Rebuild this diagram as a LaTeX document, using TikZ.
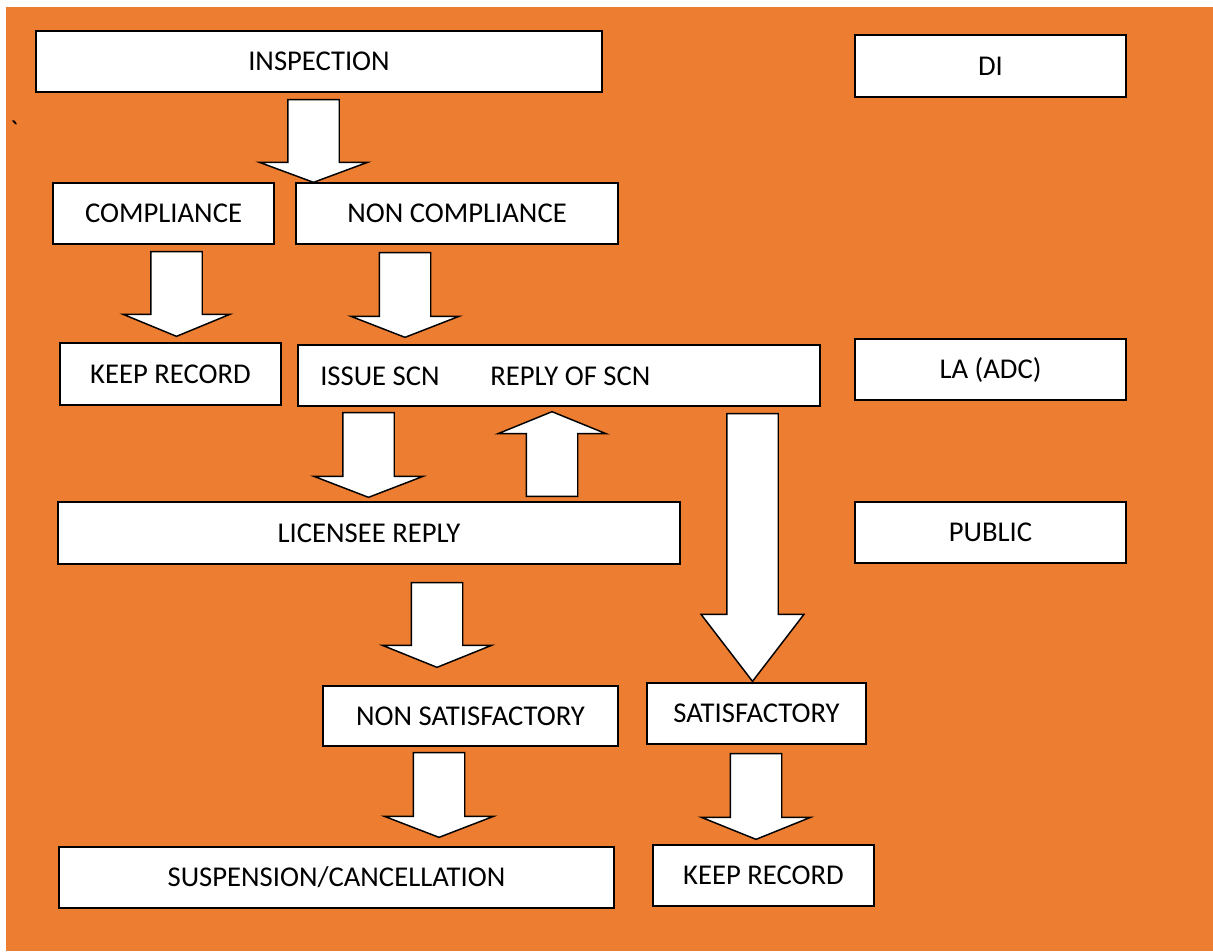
\documentclass[tikz,border=0pt]{standalone}
\usepackage{fontspec}
\setmainfont{Carlito}
\usetikzlibrary{calc}
\definecolor{orangebg}{HTML}{ED7D31}
\def\shaft{19.3pt}
% block arrow: tail, tip, head length, head half width
\newcommand\blockarrow[4]{%
    \coordinate (hb) at ($#2!#3!#1$);
    \draw[barrow] ($#1!\shaft!90:#2$) -- ($(hb)!\shaft!90:#2$)
        -- ($(hb)!#4!90:#2$) -- #2 -- ($(hb)!#4!-90:#2$)
        -- ($(hb)!\shaft!-90:#2$) -- ($#1!\shaft!-90:#2$) -- cycle;
}
\tikzset{
    box/.style={draw=black, fill=white, line width=1pt, inner sep=0pt,
        minimum height=45.75pt, font=\fontsize{21.5}{24}\selectfont},
    txt/.style={inner sep=0pt, font=\fontsize{21.5}{24}\selectfont},
    barrow/.style={draw=black, fill=white, line width=1.1pt, line join=miter}
}
\begin{document}
\begin{tikzpicture}[x=0.75pt, y=-0.75pt]
    \useasboundingbox (0,0) rectangle (1213,951);
    \fill[orangebg] (6,7) rectangle (1213,951);
    \node[txt] (tick) at (14,131) {\textasciigrave};
    % boxes
    \node[box, minimum width=424.5pt] (insp) at (319,61.5) {INSPECTION};
    \node[box, minimum width=203.25pt, minimum height=46.5pt] (di) at (990.5,66) {DI};
    \node[box, minimum width=165.75pt] (compl) at (163.5,213.5) {COMPLIANCE};
    \node[box, minimum width=241.5pt] (ncompl) at (457,213.5) {NON COMPLIANCE};
    \node[box, minimum width=165.75pt, minimum height=46.5pt] (keep1) at (170.5,374) {KEEP RECORD};
    \node[box, minimum width=391.5pt] (issue) at (559,375.5) {};
    \node[txt, anchor=west] (scn) at (320,376) {ISSUE SCN};
    \node[txt, anchor=west] (rscn) at (490,376) {REPLY OF SCN};
    \node[box, minimum width=203.25pt] (la) at (990.5,369.5) {LA (ADC)};
    \node[box, minimum width=466.5pt, minimum height=46.5pt] (lic) at (369,533) {LICENSEE REPLY};
    \node[box, minimum width=203.25pt] (pub) at (990.5,532.5) {PUBLIC};
    \node[box, minimum width=221.25pt, minimum height=45pt] (nsat) at (470.5,716) {NON SATISFACTORY};
    \node[box, minimum width=164.25pt] (sat) at (756.5,713.5) {SATISFACTORY};
    \node[box, minimum width=416.25pt] (susp) at (336.5,877.5) {SUSPENSION/CANCELLATION};
    \node[box, minimum width=165.75pt] (keep2) at (763.5,875.5) {KEEP RECORD};
    % arrows
    \coordinate (a1) at ($(insp.south)+(-5.5,7)$);
    \coordinate (b1) at (a1 |- ncompl.north);
    \blockarrow{(a1)}{(b1)}{15pt}{40.5pt}
    \coordinate (a2) at ($(compl.south)+(13,7)$);
    \coordinate (b2) at ($(a2 |- keep1.north)+(0,-6)$);
    \blockarrow{(a2)}{(b2)}{16.5pt}{40pt}
    \coordinate (a3) at ($(ncompl.south)+(-52,8)$);
    \coordinate (b3) at ($(a3 |- issue.north)+(0,-7)$);
    \blockarrow{(a3)}{(b3)}{15.75pt}{40.5pt}
    \coordinate (a4) at ($(issue.south)+(-190.5,6)$);
    \coordinate (b4) at ($(a4 |- lic.north)+(0,-4)$);
    \blockarrow{(a4)}{(b4)}{15.75pt}{40.9pt}
    \coordinate (a5) at ($(lic.north)+(183,-5)$);
    \coordinate (b5) at ($(a5 |- issue.south)+(0,5)$);
    \blockarrow{(a5)}{(b5)}{16.5pt}{40.5pt}
    \coordinate (a6) at ($(issue.south)+(193.5,7)$);
    \coordinate (b6) at ($(a6 |- sat.north)+(0,-1)$);
    \blockarrow{(a6)}{(b6)}{50.25pt}{38.6pt}
    \coordinate (a7) at ($(lic.south)+(68,18)$);
    \coordinate (b7) at ($(a7 |- nsat.north)+(0,-18)$);
    \blockarrow{(a7)}{(b7)}{16.5pt}{40.9pt}
    \coordinate (a8) at ($(nsat.south)+(-31.5,6)$);
    \coordinate (b8) at ($(a8 |- susp.north)+(0,-9)$);
    \blockarrow{(a8)}{(b8)}{15.75pt}{40.9pt}
    \coordinate (a9) at ($(sat.south)+(-0.5,9)$);
    \coordinate (b9) at ($(a9 |- keep2.north)+(0,-5)$);
    \blockarrow{(a9)}{(b9)}{16.5pt}{40.9pt}
\end{tikzpicture}
\end{document}
